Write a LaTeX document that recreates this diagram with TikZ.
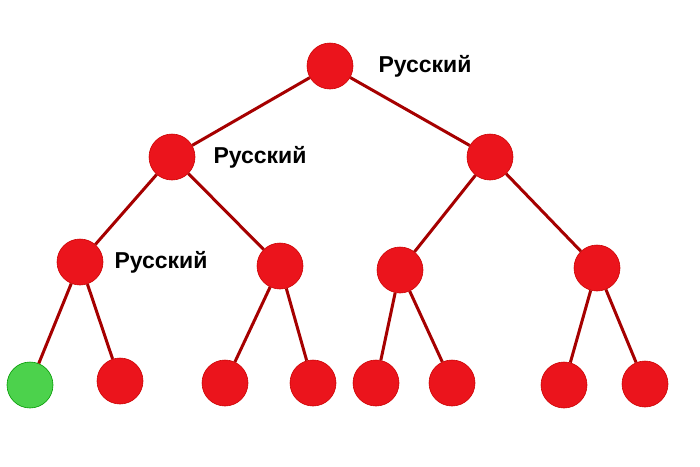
\documentclass[tikz,border=0pt]{standalone}
\usepackage{fontspec}
\setmainfont{Liberation Sans}
\usetikzlibrary{positioning}

\begin{document}
\begin{tikzpicture}[x=1pt,y=-1pt]
\tikzstyle{leaf}=[circle,draw=red!80!black,line width=0.6pt,fill={rgb,255:red,235;green,20;blue,28},minimum size=46pt,inner sep=0pt]
\tikzstyle{goal}=[circle,draw=green!60!black,line width=0.6pt,fill=green!75!black!70,minimum size=46pt,inner sep=0pt]
\tikzstyle{edge}=[draw=red!65!black,line width=3pt]
\tikzstyle{lbl}=[font=\fontsize{23}{26}\selectfont\bfseries,inner sep=0pt]
\useasboundingbox (0,0) rectangle (700,466);
\fill[white] (0,0) rectangle (700,466);
% root
\node [leaf] (root) at (330,66) {};
% level 1
\node [leaf] (l) at (172,157) {};
\node [leaf] (r) at (490,157) {};
% level 2
\node [leaf] (ll) at (80,262) {};
\node [leaf] (lr) at (280,266) {};
\node [leaf] (rl) at (400,270) {};
\node [leaf] (rr) at (597,268) {};
% level 3
\node [goal] (lll) at (30,385) {};
\node [leaf] (llr) at (120,381) {};
\node [leaf] (lrl) at (225,383) {};
\node [leaf] (lrr) at (313,383) {};
\node [leaf] (rll) at (376,383) {};
\node [leaf] (rlr) at (452,383) {};
\node [leaf] (rrl) at (564,385) {};
\node [leaf] (rrr) at (645,384) {};
% labels
\node [lbl,right=25pt of root] (t1) {Русский};
\node [lbl,right=18pt of l] (t2) {Русский};
\node [lbl,right=11pt of ll] (t3) {Русский};
% edges
\draw[edge] (root) -- (l);
\draw[edge] (root) -- (r);
\draw[edge] (l) -- (ll);
\draw[edge] (l) -- (lr);
\draw[edge] (r) -- (rl);
\draw[edge] (r) -- (rr);
\draw[edge] (ll) -- (lll);
\draw[edge] (ll) -- (llr);
\draw[edge] (lr) -- (lrl);
\draw[edge] (lr) -- (lrr);
\draw[edge] (rl) -- (rll);
\draw[edge] (rl) -- (rlr);
\draw[edge] (rr) -- (rrl);
\draw[edge] (rr) -- (rrr);
\end{tikzpicture}
\end{document}
